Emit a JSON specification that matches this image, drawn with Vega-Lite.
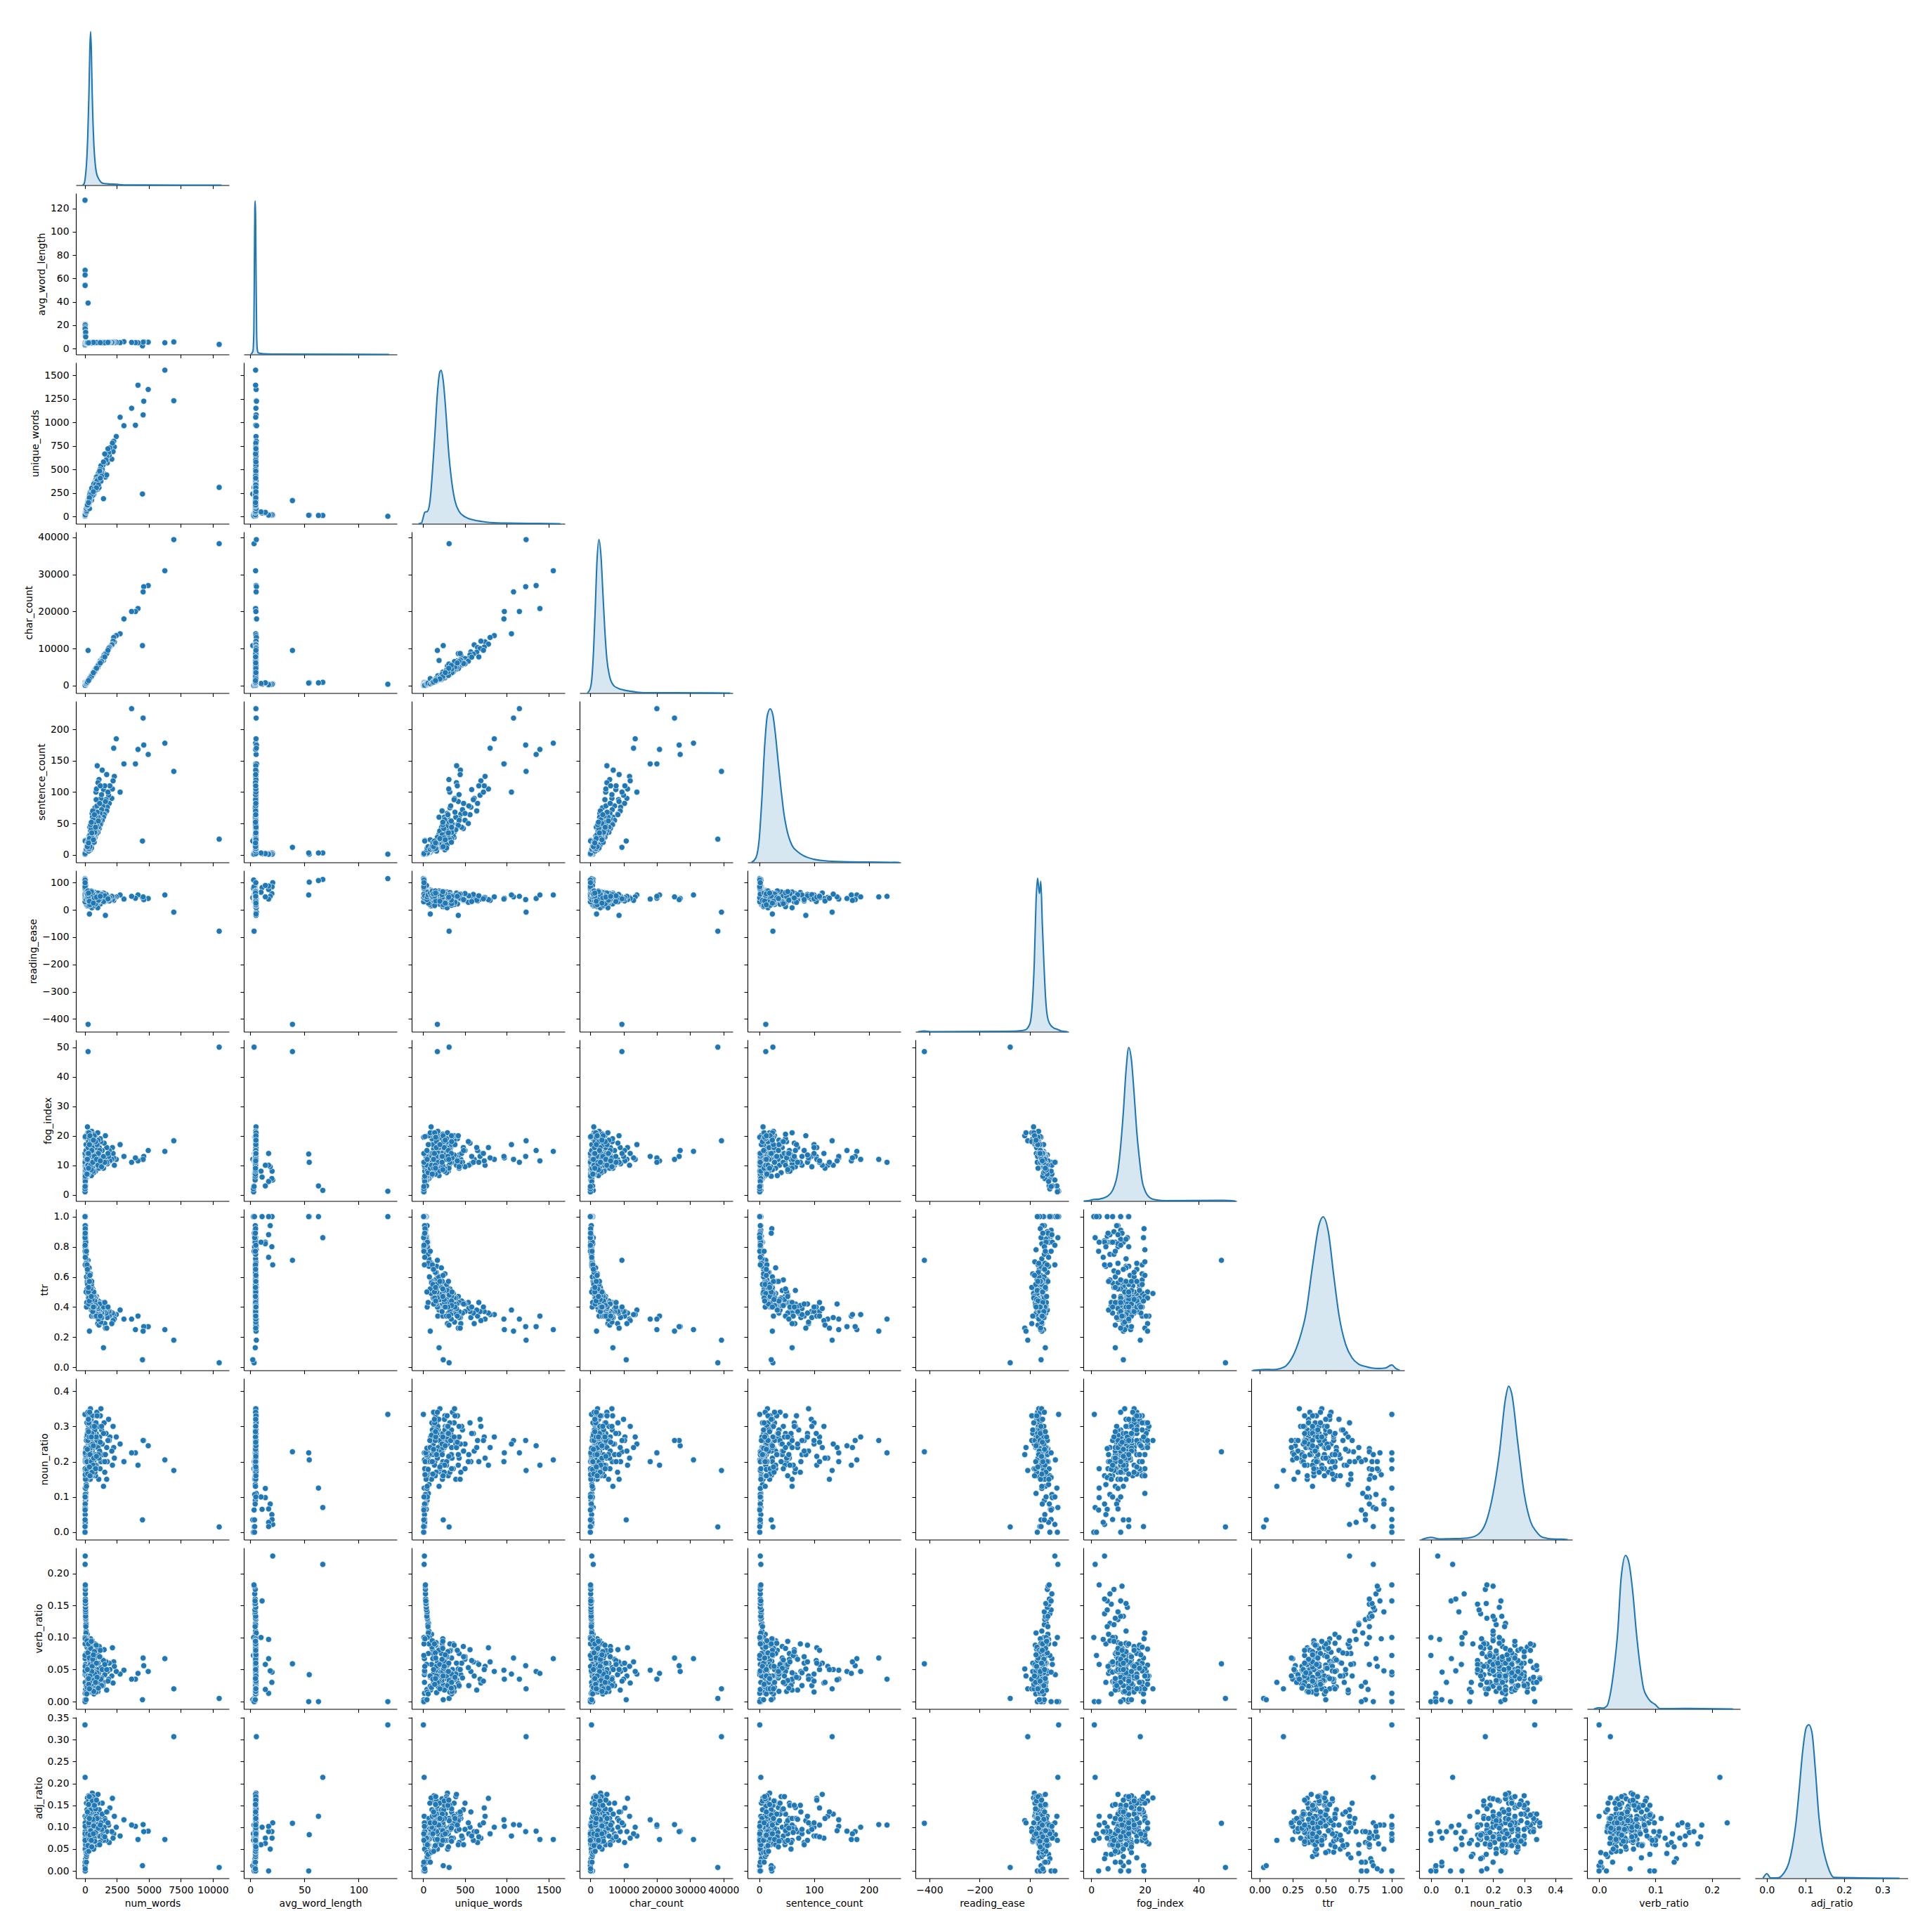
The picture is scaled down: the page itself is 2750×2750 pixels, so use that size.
{"$schema":"https://vega.github.io/schema/vega-lite/v6.json","background":"white","padding":{"left":34,"top":34,"right":0,"bottom":0},"columns":11,"spacing":{"row":11,"column":21},"bounds":"flush",
"config":{"view":{"continuousWidth":218,"continuousHeight":229.5,"stroke":null},"font":"DejaVu Sans","circle":{"size":69,"fill":"#1f77b4","opacity":1,"stroke":"white","strokeWidth":0.67},"line":{"stroke":"#1f77b4","strokeWidth":2.08},"area":{"fill":"#1f77b4","fillOpacity":0.25,"opacity":1},"axis":{"grid":false,"labels":false,"domainColor":"black","domainWidth":1.1,"tickColor":"black","tickWidth":1.1,"tickSize":5,"labelPadding":5,"labelFontSize":13.9,"labelColor":"black","titleFontSize":13.9,"titleColor":"black","titleFontWeight":"normal","titlePadding":5,"labelOverlap":false,"labelBound":false,"labelFlush":false}},
"datasets":{
"k1":[{"x":-180,"d":0},{"x":-60,"d":0.01},{"x":40,"d":0.06},{"x":130,"d":0.15},{"x":220,"d":0.32},{"x":313,"d":0.6},{"x":380,"d":0.88},{"x":440,"d":1},{"x":500,"d":0.88},{"x":560,"d":0.62},{"x":604,"d":0.48},{"x":700,"d":0.26},{"x":800,"d":0.14},{"x":900,"d":0.08},{"x":1050,"d":0.045},{"x":1250,"d":0.02},{"x":1500,"d":0.01},{"x":2000,"d":0.007},{"x":2500,"d":0.005},{"x":3000,"d":0.001},{"x":10680,"d":0}],
"k2":[{"x":0.5,"d":0},{"x":2.5,"d":0.02},{"x":3.4,"d":0.15},{"x":3.9,"d":0.6},{"x":4.3,"d":0.95},{"x":4.6,"d":1},{"x":5,"d":0.9},{"x":5.4,"d":0.55},{"x":6,"d":0.12},{"x":6.6,"d":0.03},{"x":7.5,"d":0.01},{"x":12,"d":0.004},{"x":20,"d":0.002},{"x":128,"d":0}],
"k3":[{"x":-56,"d":0},{"x":-20,"d":0.005},{"x":0,"d":0.04},{"x":20,"d":0.075},{"x":50,"d":0.08},{"x":80,"d":0.14},{"x":110,"d":0.33},{"x":140,"d":0.58},{"x":170,"d":0.85},{"x":200,"d":0.99},{"x":215,"d":1},{"x":240,"d":0.93},{"x":270,"d":0.74},{"x":300,"d":0.5},{"x":340,"d":0.28},{"x":380,"d":0.15},{"x":430,"d":0.08},{"x":500,"d":0.045},{"x":600,"d":0.025},{"x":700,"d":0.015},{"x":800,"d":0.008},{"x":1000,"d":0.004},{"x":1400,"d":0.002},{"x":1640,"d":0}],
"k4":[{"x":-840,"d":0},{"x":0,"d":0.03},{"x":500,"d":0.1},{"x":1000,"d":0.28},{"x":1500,"d":0.55},{"x":2000,"d":0.85},{"x":2600,"d":1},{"x":3200,"d":0.9},{"x":3800,"d":0.65},{"x":4400,"d":0.4},{"x":5000,"d":0.22},{"x":5800,"d":0.11},{"x":7000,"d":0.05},{"x":8500,"d":0.03},{"x":10000,"d":0.02},{"x":12000,"d":0.012},{"x":14000,"d":0.006},{"x":18000,"d":0.002},{"x":25000,"d":0.002},{"x":42000,"d":0}],
"k5":[{"x":-14,"d":0},{"x":-6,"d":0.03},{"x":0,"d":0.15},{"x":5,"d":0.42},{"x":10,"d":0.76},{"x":15,"d":0.96},{"x":20,"d":1},{"x":25,"d":0.96},{"x":30,"d":0.82},{"x":35,"d":0.64},{"x":40,"d":0.47},{"x":45,"d":0.32},{"x":50,"d":0.22},{"x":60,"d":0.11},{"x":70,"d":0.07},{"x":80,"d":0.045},{"x":100,"d":0.02},{"x":120,"d":0.01},{"x":150,"d":0.004},{"x":200,"d":0.002},{"x":255,"d":0}],
"k6":[{"x":-445,"d":0},{"x":-420,"d":0.004},{"x":-395,"d":0},{"x":-100,"d":0.002},{"x":-50,"d":0.004},{"x":-20,"d":0.01},{"x":0,"d":0.05},{"x":10,"d":0.18},{"x":18,"d":0.45},{"x":25,"d":0.85},{"x":31,"d":1},{"x":36,"d":0.93},{"x":39,"d":0.9},{"x":44,"d":0.98},{"x":50,"d":0.7},{"x":57,"d":0.42},{"x":63,"d":0.22},{"x":70,"d":0.1},{"x":80,"d":0.05},{"x":95,"d":0.025},{"x":110,"d":0.015},{"x":125,"d":0.005},{"x":150,"d":0}],
"k7":[{"x":-2.7,"d":0},{"x":-1,"d":0.002},{"x":1,"d":0.01},{"x":3,"d":0.012},{"x":6,"d":0.03},{"x":8,"d":0.07},{"x":10,"d":0.2},{"x":11,"d":0.36},{"x":12,"d":0.58},{"x":13,"d":0.85},{"x":14,"d":1},{"x":15,"d":0.92},{"x":16,"d":0.7},{"x":17,"d":0.45},{"x":18,"d":0.27},{"x":19,"d":0.13},{"x":20,"d":0.07},{"x":22,"d":0.02},{"x":24,"d":0.008},{"x":28,"d":0.002},{"x":49,"d":0.004},{"x":53.7,"d":0}],
"k8":[{"x":-0.05,"d":0},{"x":0,"d":0.003},{"x":0.05,"d":0.006},{"x":0.1,"d":0.004},{"x":0.15,"d":0.01},{"x":0.2,"d":0.03},{"x":0.25,"d":0.09},{"x":0.3,"d":0.2},{"x":0.35,"d":0.37},{"x":0.4,"d":0.68},{"x":0.45,"d":0.95},{"x":0.48,"d":1},{"x":0.52,"d":0.9},{"x":0.56,"d":0.62},{"x":0.6,"d":0.36},{"x":0.65,"d":0.17},{"x":0.7,"d":0.08},{"x":0.75,"d":0.04},{"x":0.8,"d":0.025},{"x":0.85,"d":0.015},{"x":0.9,"d":0.012},{"x":0.95,"d":0.015},{"x":1,"d":0.035},{"x":1.03,"d":0.012},{"x":1.06,"d":0}],
"k9":[{"x":-0.03,"d":0},{"x":0,"d":0.015},{"x":0.03,"d":0.004},{"x":0.06,"d":0.006},{"x":0.1,"d":0.008},{"x":0.13,"d":0.015},{"x":0.16,"d":0.05},{"x":0.18,"d":0.13},{"x":0.2,"d":0.3},{"x":0.22,"d":0.56},{"x":0.24,"d":0.92},{"x":0.25,"d":1},{"x":0.26,"d":0.95},{"x":0.28,"d":0.62},{"x":0.3,"d":0.3},{"x":0.32,"d":0.12},{"x":0.34,"d":0.05},{"x":0.36,"d":0.015},{"x":0.4,"d":0.003},{"x":0.42,"d":0.003},{"x":0.44,"d":0}],
"k10":[{"x":-0.009,"d":0},{"x":0,"d":0.008},{"x":0.006,"d":0.005},{"x":0.014,"d":0.02},{"x":0.02,"d":0.1},{"x":0.026,"d":0.25},{"x":0.033,"d":0.5},{"x":0.039,"d":0.85},{"x":0.047,"d":1},{"x":0.053,"d":0.95},{"x":0.06,"d":0.75},{"x":0.066,"d":0.5},{"x":0.072,"d":0.3},{"x":0.079,"d":0.13},{"x":0.085,"d":0.08},{"x":0.091,"d":0.05},{"x":0.099,"d":0.03},{"x":0.108,"d":0.002},{"x":0.15,"d":0.003},{"x":0.237,"d":0}],
"k11":[{"x":-0.01,"d":0},{"x":0,"d":0.03},{"x":0.01,"d":0.002},{"x":0.03,"d":0.003},{"x":0.043,"d":0.03},{"x":0.057,"d":0.1},{"x":0.066,"d":0.2},{"x":0.075,"d":0.35},{"x":0.084,"d":0.58},{"x":0.093,"d":0.83},{"x":0.102,"d":0.98},{"x":0.109,"d":1},{"x":0.117,"d":0.95},{"x":0.126,"d":0.7},{"x":0.135,"d":0.4},{"x":0.144,"d":0.22},{"x":0.153,"d":0.12},{"x":0.162,"d":0.05},{"x":0.174,"d":0.005},{"x":0.344,"d":0}],
"docs":[
{"words":3,"len":127,"uniq":3,"chars":380,"sents":1,"ease":115,"fog":1.2,"ttr":1,"noun":0.334,"verb":0,"adj":0.334},
{"words":14,"len":67,"uniq":12,"chars":900,"sents":3,"ease":112,"fog":1.5,"ttr":0.86,"noun":0.07,"verb":0.214,"adj":0.214},
{"words":12,"len":63,"uniq":12,"chars":760,"sents":3,"ease":108,"fog":3,"ttr":1,"noun":0.125,"verb":0,"adj":0.125},
{"words":15,"len":54.5,"uniq":15,"chars":800,"sents":1,"ease":102,"fog":11,"ttr":1,"noun":0.205,"verb":0.042,"adj":0.083},
{"words":14,"len":54,"uniq":14,"chars":700,"sents":3,"ease":55,"fog":13.8,"ttr":1,"noun":0.225,"verb":0,"adj":0},
{"words":245,"len":39,"uniq":170,"chars":9500,"sents":12,"ease":-420,"fog":48.5,"ttr":0.71,"noun":0.228,"verb":0.059,"adj":0.109},
{"words":10500,"len":3.6,"uniq":310,"chars":38300,"sents":25,"ease":-78,"fog":50,"ttr":0.03,"noun":0.015,"verb":0.005,"adj":0.008},
{"words":6950,"len":5.7,"uniq":1230,"chars":39400,"sents":133,"ease":-8,"fog":18.3,"ttr":0.18,"noun":0.175,"verb":0.02,"adj":0.307},
{"words":6250,"len":5,"uniq":1555,"chars":31000,"sents":178,"ease":55,"fog":14.7,"ttr":0.25,"noun":0.205,"verb":0.067,"adj":0.072},
{"words":4500,"len":2.4,"uniq":240,"chars":10800,"sents":22,"ease":45,"fog":12,"ttr":0.05,"noun":0.035,"verb":0.003,"adj":0.012},
{"words":4950,"len":5.5,"uniq":1350,"chars":27000,"sents":160,"ease":42,"fog":15,"ttr":0.27,"noun":0.245,"verb":0.047,"adj":0.091},
{"words":4600,"len":5.8,"uniq":1225,"chars":26700,"sents":175,"ease":38,"fog":13,"ttr":0.27,"noun":0.26,"verb":0.056,"adj":0.09},
{"words":4550,"len":5.5,"uniq":1080,"chars":25300,"sents":218,"ease":48,"fog":12,"ttr":0.24,"noun":0.26,"verb":0.068,"adj":0.106},
{"words":4150,"len":5,"uniq":1395,"chars":20800,"sents":168,"ease":55,"fog":11.5,"ttr":0.34,"noun":0.19,"verb":0.044,"adj":0.072},
{"words":3950,"len":5.1,"uniq":970,"chars":20000,"sents":145,"ease":43,"fog":12.5,"ttr":0.25,"noun":0.225,"verb":0.035,"adj":0.102},
{"words":3650,"len":5.3,"uniq":1150,"chars":20000,"sents":233,"ease":50,"fog":11,"ttr":0.32,"noun":0.225,"verb":0.035,"adj":0.105},
{"words":3050,"len":5.9,"uniq":965,"chars":18000,"sents":145,"ease":40,"fog":13,"ttr":0.32,"noun":0.2,"verb":0.049,"adj":0.117},
{"words":2750,"len":5.1,"uniq":1055,"chars":14000,"sents":100,"ease":55,"fog":17,"ttr":0.38,"noun":0.25,"verb":0.043,"adj":0.08},
{"words":2450,"len":5.4,"uniq":850,"chars":13500,"sents":185,"ease":48,"fog":12,"ttr":0.35,"noun":0.27,"verb":0.047,"adj":0.1},
{"words":2250,"len":5.7,"uniq":800,"chars":13000,"sents":170,"ease":35,"fog":12.5,"ttr":0.35,"noun":0.24,"verb":0.062,"adj":0.085},
{"words":2300,"len":5.1,"uniq":740,"chars":11800,"sents":125,"ease":46,"fog":10,"ttr":0.32,"noun":0.21,"verb":0.055,"adj":0.125},
{"words":2200,"len":5.4,"uniq":690,"chars":12000,"sents":118,"ease":42,"fog":14,"ttr":0.31,"noun":0.3,"verb":0.029,"adj":0.075},
{"words":2150,"len":5.2,"uniq":780,"chars":11200,"sents":105,"ease":38,"fog":16,"ttr":0.36,"noun":0.19,"verb":0.084,"adj":0.166},
{"words":2100,"len":5.3,"uniq":610,"chars":11000,"sents":90,"ease":50,"fog":12,"ttr":0.29,"noun":0.23,"verb":0.04,"adj":0.09},
{"words":1950,"len":5.3,"uniq":730,"chars":10400,"sents":110,"ease":45,"fog":11.5,"ttr":0.37,"noun":0.27,"verb":0.05,"adj":0.144},
{"words":1900,"len":5.5,"uniq":650,"chars":10300,"sents":82,"ease":33,"fog":15,"ttr":0.34,"noun":0.26,"verb":0.06,"adj":0.065},
{"words":1850,"len":5.4,"uniq":680,"chars":10000,"sents":95,"ease":40,"fog":13,"ttr":0.37,"noun":0.32,"verb":0.035,"adj":0.105},
{"words":1750,"len":5.2,"uniq":570,"chars":9100,"sents":76,"ease":50,"fog":10.5,"ttr":0.33,"noun":0.2,"verb":0.047,"adj":0.135},
{"words":1700,"len":5.3,"uniq":640,"chars":9000,"sents":70,"ease":36,"fog":16,"ttr":0.38,"noun":0.24,"verb":0.018,"adj":0.09},
{"words":1650,"len":5.1,"uniq":600,"chars":8500,"sents":88,"ease":57,"fog":11,"ttr":0.36,"noun":0.28,"verb":0.062,"adj":0.07},
{"words":1550,"len":5.3,"uniq":450,"chars":8200,"sents":65,"ease":47,"fog":12,"ttr":0.29,"noun":0.17,"verb":0.042,"adj":0.12},
{"words":1500,"len":5.5,"uniq":560,"chars":8300,"sents":64,"ease":30,"fog":17.5,"ttr":0.37,"noun":0.31,"verb":0.081,"adj":0.1},
{"words":1450,"len":4.7,"uniq":190,"chars":6800,"sents":60,"ease":62,"fog":9,"ttr":0.13,"noun":0.13,"verb":0.03,"adj":0.07},
{"words":1400,"len":5.2,"uniq":545,"chars":7300,"sents":78,"ease":52,"fog":10,"ttr":0.39,"noun":0.22,"verb":0.025,"adj":0.085},
{"words":1350,"len":5.4,"uniq":500,"chars":7300,"sents":55,"ease":35,"fog":15,"ttr":0.37,"noun":0.25,"verb":0.066,"adj":0.155},
{"words":1300,"len":5.1,"uniq":470,"chars":6600,"sents":72,"ease":55,"fog":11,"ttr":0.36,"noun":0.29,"verb":0.037,"adj":0.075},
{"words":1250,"len":5.3,"uniq":540,"chars":6600,"sents":50,"ease":28,"fog":18,"ttr":0.43,"noun":0.2,"verb":0.053,"adj":0.11},
{"words":1200,"len":5.6,"uniq":410,"chars":6700,"sents":48,"ease":22,"fog":19,"ttr":0.34,"noun":0.33,"verb":0.03,"adj":0.13},
{"words":1180,"len":5,"uniq":500,"chars":5900,"sents":66,"ease":60,"fog":9.5,"ttr":0.42,"noun":0.18,"verb":0.07,"adj":0.095},
{"words":1150,"len":5.2,"uniq":430,"chars":6000,"sents":58,"ease":43,"fog":13.5,"ttr":0.37,"noun":0.27,"verb":0.024,"adj":0.065},
{"words":1120,"len":5.4,"uniq":480,"chars":6050,"sents":42,"ease":36,"fog":16,"ttr":0.43,"noun":0.23,"verb":0.086,"adj":0.14},
{"words":1080,"len":5.1,"uniq":390,"chars":5500,"sents":60,"ease":53,"fog":10.5,"ttr":0.36,"noun":0.15,"verb":0.045,"adj":0.105},
{"words":1050,"len":5.3,"uniq":460,"chars":5600,"sents":44,"ease":40,"fog":14,"ttr":0.44,"noun":0.3,"verb":0.06,"adj":0.08},
{"words":1020,"len":5.5,"uniq":370,"chars":5600,"sents":36,"ease":26,"fog":18.5,"ttr":0.36,"noun":0.26,"verb":0.016,"adj":0.155},
{"words":990,"len":5,"uniq":430,"chars":4950,"sents":55,"ease":58,"fog":9,"ttr":0.43,"noun":0.21,"verb":0.075,"adj":0.12},
{"words":960,"len":5.2,"uniq":400,"chars":5000,"sents":142,"ease":48,"fog":11.5,"ttr":0.42,"noun":0.24,"verb":0.034,"adj":0.092},
{"words":930,"len":5.4,"uniq":350,"chars":5000,"sents":38,"ease":31,"fog":17,"ttr":0.38,"noun":0.34,"verb":0.05,"adj":0.13},
{"words":900,"len":5.1,"uniq":420,"chars":4600,"sents":47,"ease":50,"fog":11,"ttr":0.47,"noun":0.19,"verb":0.028,"adj":0.06},
{"words":880,"len":5.3,"uniq":330,"chars":4650,"sents":33,"ease":37,"fog":16,"ttr":0.38,"noun":0.28,"verb":0.08,"adj":0.11},
{"words":850,"len":5.2,"uniq":390,"chars":4400,"sents":40,"ease":44,"fog":13,"ttr":0.46,"noun":0.25,"verb":0.043,"adj":0.17},
{"words":830,"len":5,"uniq":300,"chars":4150,"sents":52,"ease":64,"fog":8,"ttr":0.36,"noun":0.16,"verb":0.058,"adj":0.085},
{"words":800,"len":5.5,"uniq":370,"chars":4400,"sents":28,"ease":20,"fog":20,"ttr":0.46,"noun":0.31,"verb":0.022,"adj":0.125},
{"words":780,"len":5.1,"uniq":340,"chars":3980,"sents":42,"ease":52,"fog":11,"ttr":0.44,"noun":0.22,"verb":0.068,"adj":0.1},
{"words":760,"len":5.3,"uniq":320,"chars":4030,"sents":35,"ease":39,"fog":15,"ttr":0.42,"noun":0.27,"verb":0.037,"adj":0.145},
{"words":740,"len":5,"uniq":360,"chars":3700,"sents":30,"ease":47,"fog":13,"ttr":0.49,"noun":0.18,"verb":0.09,"adj":0.075},
{"words":720,"len":5.2,"uniq":310,"chars":3750,"sents":37,"ease":55,"fog":10,"ttr":0.43,"noun":0.29,"verb":0.047,"adj":0.115},
{"words":700,"len":5.4,"uniq":340,"chars":3780,"sents":26,"ease":24,"fog":19.5,"ttr":0.49,"noun":0.24,"verb":0.012,"adj":0.135},
{"words":680,"len":4.9,"uniq":280,"chars":3330,"sents":40,"ease":66,"fog":7.5,"ttr":0.41,"noun":0.2,"verb":0.06,"adj":0.07},
{"words":660,"len":5.1,"uniq":300,"chars":3370,"sents":28,"ease":42,"fog":15,"ttr":0.45,"noun":0.26,"verb":0.03,"adj":0.16},
{"words":640,"len":5.3,"uniq":260,"chars":3390,"sents":32,"ease":35,"fog":16.5,"ttr":0.41,"noun":0.33,"verb":0.053,"adj":0.095},
{"words":620,"len":5,"uniq":320,"chars":3100,"sents":24,"ease":50,"fog":12.5,"ttr":0.52,"noun":0.21,"verb":0.079,"adj":0.12},
{"words":600,"len":5.2,"uniq":270,"chars":3120,"sents":34,"ease":45,"fog":12,"ttr":0.45,"noun":0.28,"verb":0.041,"adj":0.088},
{"words":590,"len":5.1,"uniq":240,"chars":3010,"sents":22,"ease":41,"fog":15.5,"ttr":0.41,"noun":0.16,"verb":0.026,"adj":0.105},
{"words":575,"len":5.4,"uniq":290,"chars":3100,"sents":19,"ease":18,"fog":21,"ttr":0.5,"noun":0.25,"verb":0.057,"adj":0.178},
{"words":560,"len":5,"uniq":230,"chars":2800,"sents":30,"ease":58,"fog":9,"ttr":0.41,"noun":0.23,"verb":0.095,"adj":0.062},
{"words":545,"len":5.2,"uniq":265,"chars":2830,"sents":21,"ease":33,"fog":17,"ttr":0.49,"noun":0.3,"verb":0.036,"adj":0.13},
{"words":530,"len":5.1,"uniq":215,"chars":2700,"sents":28,"ease":48,"fog":13,"ttr":0.41,"noun":0.19,"verb":0.05,"adj":0.097},
{"words":515,"len":5.3,"uniq":250,"chars":2730,"sents":25,"ease":38,"fog":14.5,"ttr":0.49,"noun":0.27,"verb":0.072,"adj":0.15},
{"words":500,"len":4.9,"uniq":190,"chars":2450,"sents":33,"ease":70,"fog":6.5,"ttr":0.38,"noun":0.22,"verb":0.044,"adj":0.078},
{"words":490,"len":5,"uniq":240,"chars":2450,"sents":18,"ease":44,"fog":15,"ttr":0.49,"noun":0.26,"verb":0.02,"adj":0.115},
{"words":480,"len":5.2,"uniq":255,"chars":2500,"sents":23,"ease":28,"fog":18,"ttr":0.53,"noun":0.32,"verb":0.063,"adj":0.09},
{"words":470,"len":5.1,"uniq":210,"chars":2400,"sents":26,"ease":53,"fog":11.5,"ttr":0.45,"noun":0.17,"verb":0.083,"adj":0.125},
{"words":460,"len":5,"uniq":225,"chars":2300,"sents":17,"ease":40,"fog":14,"ttr":0.49,"noun":0.24,"verb":0.033,"adj":0.165},
{"words":450,"len":5.3,"uniq":180,"chars":2390,"sents":20,"ease":31,"fog":19,"ttr":0.4,"noun":0.29,"verb":0.054,"adj":0.07},
{"words":440,"len":4.8,"uniq":235,"chars":2110,"sents":24,"ease":62,"fog":8.5,"ttr":0.53,"noun":0.2,"verb":0.098,"adj":0.11},
{"words":430,"len":5.1,"uniq":200,"chars":2190,"sents":15,"ease":36,"fog":16,"ttr":0.47,"noun":0.35,"verb":0.037,"adj":0.103},
{"words":420,"len":5.2,"uniq":170,"chars":2180,"sents":22,"ease":46,"fog":12.5,"ttr":0.4,"noun":0.23,"verb":0.015,"adj":0.14},
{"words":410,"len":5,"uniq":230,"chars":2050,"sents":19,"ease":52,"fog":13,"ttr":0.56,"noun":0.15,"verb":0.064,"adj":0.082},
{"words":400,"len":5.3,"uniq":190,"chars":2120,"sents":14,"ease":25,"fog":20,"ttr":0.47,"noun":0.27,"verb":0.046,"adj":0.122},
{"words":390,"len":4.9,"uniq":210,"chars":1910,"sents":21,"ease":59,"fog":9.5,"ttr":0.54,"noun":0.25,"verb":0.077,"adj":0.06},
{"words":380,"len":5.1,"uniq":160,"chars":1940,"sents":16,"ease":42,"fog":15,"ttr":0.42,"noun":0.31,"verb":0.028,"adj":0.155},
{"words":370,"len":5,"uniq":200,"chars":1850,"sents":18,"ease":49,"fog":12,"ttr":0.54,"noun":0.18,"verb":0.058,"adj":0.093},
{"words":360,"len":5.2,"uniq":175,"chars":1870,"sents":13,"ease":34,"fog":17,"ttr":0.49,"noun":0.22,"verb":0.04,"adj":0.13},
{"words":350,"len":5.4,"uniq":150,"chars":1890,"sents":20,"ease":22,"fog":18,"ttr":0.43,"noun":0.33,"verb":0.088,"adj":0.11},
{"words":340,"len":4.8,"uniq":190,"chars":1630,"sents":17,"ease":65,"fog":8,"ttr":0.56,"noun":0.26,"verb":0.031,"adj":0.068},
{"words":330,"len":5.1,"uniq":165,"chars":1680,"sents":12,"ease":40,"fog":16,"ttr":0.5,"noun":0.28,"verb":0.052,"adj":0.148},
{"words":320,"len":5,"uniq":140,"chars":1600,"sents":15,"ease":47,"fog":13,"ttr":0.44,"noun":0.2,"verb":0.07,"adj":0.1},
{"words":310,"len":5.3,"uniq":180,"chars":1640,"sents":11,"ease":29,"fog":19,"ttr":0.58,"noun":0.24,"verb":0.023,"adj":0.085},
{"words":300,"len":4.9,"uniq":155,"chars":1470,"sents":16,"ease":56,"fog":10,"ttr":0.52,"noun":0.17,"verb":0.092,"adj":0.12},
{"words":290,"len":5.2,"uniq":130,"chars":1510,"sents":14,"ease":38,"fog":15,"ttr":0.45,"noun":0.3,"verb":0.045,"adj":0.172},
{"words":280,"len":5,"uniq":170,"chars":1400,"sents":10,"ease":44,"fog":14.5,"ttr":0.61,"noun":0.21,"verb":0.061,"adj":0.05},
{"words":270,"len":5.1,"uniq":150,"chars":1380,"sents":13,"ease":51,"fog":11,"ttr":0.56,"noun":0.27,"verb":0.035,"adj":0.105},
{"words":260,"len":5.3,"uniq":120,"chars":1380,"sents":12,"ease":31,"fog":18,"ttr":0.46,"noun":0.25,"verb":0.075,"adj":0.135},
{"words":250,"len":4.8,"uniq":145,"chars":1200,"sents":14,"ease":68,"fog":7,"ttr":0.58,"noun":0.16,"verb":0.048,"adj":0.072},
{"words":240,"len":5,"uniq":160,"chars":1200,"sents":9,"ease":47,"fog":13,"ttr":0.67,"noun":0.23,"verb":0.014,"adj":0.09},
{"words":230,"len":5.1,"uniq":125,"chars":1170,"sents":11,"ease":42,"fog":15.5,"ttr":0.54,"noun":0.34,"verb":0.056,"adj":0.115},
{"words":220,"len":5.2,"uniq":110,"chars":1140,"sents":8,"ease":27,"fog":21,"ttr":0.5,"noun":0.29,"verb":0.082,"adj":0.16},
{"words":210,"len":4.9,"uniq":135,"chars":1030,"sents":12,"ease":63,"fog":8.5,"ttr":0.64,"noun":0.19,"verb":0.03,"adj":0.055},
{"words":200,"len":5,"uniq":115,"chars":1000,"sents":10,"ease":50,"fog":12,"ttr":0.57,"noun":0.22,"verb":0.067,"adj":0.125},
{"words":195,"len":5.4,"uniq":95,"chars":1050,"sents":7,"ease":15,"fog":23,"ttr":0.49,"noun":0.26,"verb":0.02,"adj":0.167},
{"words":185,"len":5.1,"uniq":120,"chars":940,"sents":8,"ease":38,"fog":17,"ttr":0.65,"noun":0.28,"verb":0.043,"adj":0.095},
{"words":175,"len":4.8,"uniq":100,"chars":840,"sents":11,"ease":72,"fog":6.5,"ttr":0.57,"noun":0.2,"verb":0.105,"adj":0.08},
{"words":165,"len":5,"uniq":85,"chars":825,"sents":9,"ease":54,"fog":11,"ttr":0.52,"noun":0.24,"verb":0.038,"adj":0.045},
{"words":155,"len":5.2,"uniq":105,"chars":810,"sents":6,"ease":33,"fog":19,"ttr":0.68,"noun":0.31,"verb":0.085,"adj":0.14},
{"words":145,"len":4.9,"uniq":100,"chars":710,"sents":7,"ease":60,"fog":10,"ttr":0.69,"noun":0.15,"verb":0.058,"adj":0.1},
{"words":135,"len":5.1,"uniq":90,"chars":690,"sents":5,"ease":44,"fog":14,"ttr":0.67,"noun":0.27,"verb":0.018,"adj":0.11},
{"words":125,"len":5,"uniq":75,"chars":625,"sents":8,"ease":57,"fog":9,"ttr":0.6,"noun":0.22,"verb":0.1,"adj":0.073},
{"words":115,"len":5.3,"uniq":80,"chars":610,"sents":4,"ease":20,"fog":20,"ttr":0.7,"noun":0.26,"verb":0.04,"adj":0.155},
{"words":105,"len":4.7,"uniq":70,"chars":495,"sents":6,"ease":75,"fog":5.5,"ttr":0.67,"noun":0.135,"verb":0.09,"adj":0.038},
{"words":95,"len":5,"uniq":68,"chars":475,"sents":5,"ease":48,"fog":13,"ttr":0.72,"noun":0.2,"verb":0.11,"adj":0.12},
{"words":90,"len":5.2,"uniq":62,"chars":470,"sents":4,"ease":36,"fog":17,"ttr":0.69,"noun":0.165,"verb":0.075,"adj":0.03},
{"words":85,"len":4.8,"uniq":64,"chars":410,"sents":5,"ease":66,"fog":7,"ttr":0.75,"noun":0.24,"verb":0.122,"adj":0.06},
{"words":80,"len":5.6,"uniq":62,"chars":450,"sents":3,"ease":25,"fog":20,"ttr":0.78,"noun":0.11,"verb":0.107,"adj":0.09},
{"words":75,"len":5,"uniq":56,"chars":375,"sents":4,"ease":58,"fog":8.5,"ttr":0.75,"noun":0.21,"verb":0.12,"adj":0.04},
{"words":70,"len":4.6,"uniq":58,"chars":320,"sents":6,"ease":72,"fog":6,"ttr":0.83,"noun":0.237,"verb":0.117,"adj":0.075},
{"words":65,"len":5.2,"uniq":52,"chars":340,"sents":3,"ease":60,"fog":10,"ttr":0.8,"noun":0.205,"verb":0.128,"adj":0.065},
{"words":60,"len":4.9,"uniq":50,"chars":295,"sents":4,"ease":68,"fog":9,"ttr":0.83,"noun":0.18,"verb":0.13,"adj":0.085},
{"words":58,"len":5.4,"uniq":48,"chars":310,"sents":2,"ease":62,"fog":12,"ttr":0.83,"noun":0.228,"verb":0.133,"adj":0.055},
{"words":55,"len":4.5,"uniq":46,"chars":250,"sents":4,"ease":80,"fog":5,"ttr":0.84,"noun":0.16,"verb":0.137,"adj":0.028},
{"words":52,"len":5,"uniq":44,"chars":260,"sents":3,"ease":72,"fog":11,"ttr":0.85,"noun":0.2,"verb":0.133,"adj":0.02},
{"words":50,"len":4.7,"uniq":47,"chars":235,"sents":3,"ease":58,"fog":10,"ttr":0.94,"noun":0.09,"verb":0.14,"adj":0.105},
{"words":46,"len":4.4,"uniq":40,"chars":200,"sents":4,"ease":85,"fog":6,"ttr":0.87,"noun":0.155,"verb":0.143,"adj":0.075},
{"words":44,"len":5.1,"uniq":38,"chars":225,"sents":2,"ease":70,"fog":13.5,"ttr":0.86,"noun":0.22,"verb":0.147,"adj":0.11},
{"words":42,"len":4.3,"uniq":35,"chars":180,"sents":3,"ease":76,"fog":7.5,"ttr":0.83,"noun":0.15,"verb":0.152,"adj":0.06},
{"words":40,"len":4.8,"uniq":34,"chars":190,"sents":2,"ease":64,"fog":13,"ttr":0.85,"noun":0.178,"verb":0.153,"adj":0.08},
{"words":38,"len":11,"uniq":38,"chars":420,"sents":2,"ease":82,"fog":6,"ttr":1,"noun":0.065,"verb":0.157,"adj":0.1},
{"words":36,"len":4.6,"uniq":30,"chars":165,"sents":2,"ease":78,"fog":5,"ttr":0.83,"noun":0.08,"verb":0.16,"adj":0.088},
{"words":34,"len":4.5,"uniq":31,"chars":155,"sents":3,"ease":85,"fog":11,"ttr":0.91,"noun":0.225,"verb":0.157,"adj":0.105},
{"words":32,"len":4.2,"uniq":28,"chars":135,"sents":2,"ease":88,"fog":7,"ttr":0.88,"noun":0.107,"verb":0.168,"adj":0.09},
{"words":30,"len":4.7,"uniq":27,"chars":140,"sents":2,"ease":70,"fog":8.5,"ttr":0.9,"noun":0.175,"verb":0.175,"adj":0.062},
{"words":28,"len":3.8,"uniq":25,"chars":105,"sents":2,"ease":73,"fog":11.5,"ttr":0.89,"noun":0.2,"verb":0.18,"adj":0.078},
{"words":27,"len":3.5,"uniq":27,"chars":95,"sents":3,"ease":77,"fog":3,"ttr":1,"noun":0.18,"verb":0.182,"adj":0.105},
{"words":22,"len":20.8,"uniq":15,"chars":460,"sents":2,"ease":100,"fog":5,"ttr":0.68,"noun":0.022,"verb":0.227,"adj":0.11},
{"words":20,"len":20,"uniq":16,"chars":400,"sents":3,"ease":60,"fog":5.5,"ttr":0.8,"noun":0.05,"verb":0.03,"adj":0.09},
{"words":19,"len":20.2,"uniq":19,"chars":380,"sents":1,"ease":85,"fog":8,"ttr":1,"noun":0.036,"verb":0.046,"adj":0.075},
{"words":18,"len":18.5,"uniq":17,"chars":330,"sents":2,"ease":50,"fog":9.5,"ttr":0.94,"noun":0.08,"verb":0.048,"adj":0.05},
{"words":26,"len":17,"uniq":19,"chars":440,"sents":2,"ease":75,"fog":4.5,"ttr":0.73,"noun":0.028,"verb":0.097,"adj":0.09},
{"words":17,"len":17,"uniq":15,"chars":290,"sents":1,"ease":88,"fog":10,"ttr":0.88,"noun":0.066,"verb":0.067,"adj":0.102},
{"words":16,"len":17,"uniq":16,"chars":270,"sents":1,"ease":40,"fog":14,"ttr":1,"noun":0.016,"verb":0.013,"adj":0},
{"words":48,"len":14,"uniq":40,"chars":670,"sents":2,"ease":90,"fog":3,"ttr":0.83,"noun":0.098,"verb":0.058,"adj":0.075},
{"words":55,"len":14,"uniq":45,"chars":770,"sents":2,"ease":48,"fog":10,"ttr":0.82,"noun":0.124,"verb":0.019,"adj":0.063},
{"words":60,"len":10,"uniq":50,"chars":600,"sents":3,"ease":65,"fog":8,"ttr":0.83,"noun":0.1,"verb":0.1,"adj":0.06},
{"words":9,"len":3.2,"uniq":9,"chars":28,"sents":1,"ease":110,"fog":1,"ttr":1,"noun":0,"verb":0.1,"adj":0.07},
{"words":8,"len":3,"uniq":8,"chars":24,"sents":1,"ease":80,"fog":2,"ttr":1,"noun":0,"verb":0.072,"adj":0.085},
{"words":6,"len":4,"uniq":6,"chars":24,"sents":1,"ease":30,"fog":11,"ttr":1,"noun":0,"verb":0,"adj":0},
{"words":7,"len":4.2,"uniq":6,"chars":30,"sents":1,"ease":45,"fog":19.5,"ttr":0.86,"noun":0.016,"verb":0,"adj":0.012},
{"words":10,"len":4,"uniq":8,"chars":40,"sents":2,"ease":58,"fog":14,"ttr":0.8,"noun":0.035,"verb":0.003,"adj":0.02},
{"words":11,"len":3.6,"uniq":8,"chars":40,"sents":1,"ease":85,"fog":2.8,"ttr":0.77,"noun":0.063,"verb":0,"adj":0},
{"words":13,"len":5.2,"uniq":10,"chars":68,"sents":2,"ease":100,"fog":11,"ttr":0.81,"noun":0.1,"verb":0.09,"adj":0},
{"words":24,"len":5,"uniq":22,"chars":120,"sents":23,"ease":42,"fog":19.7,"ttr":0.92,"noun":0.163,"verb":0.098,"adj":0},
{"words":21,"len":4.8,"uniq":19,"chars":100,"sents":22,"ease":52,"fog":6.3,"ttr":0.89,"noun":0.18,"verb":0.055,"adj":0.005},
{"words":90,"len":4.7,"uniq":45,"chars":420,"sents":8,"ease":38,"fog":15,"ttr":0.5,"noun":0.238,"verb":0.003,"adj":0.042},
{"words":120,"len":4.9,"uniq":48,"chars":590,"sents":11,"ease":48,"fog":12,"ttr":0.4,"noun":0.13,"verb":0.015,"adj":0.033},
{"words":140,"len":5,"uniq":60,"chars":700,"sents":13,"ease":55,"fog":7.5,"ttr":0.43,"noun":0.178,"verb":0.012,"adj":0.038},
{"words":110,"len":4.8,"uniq":85,"chars":530,"sents":9,"ease":62,"fog":9,"ttr":0.77,"noun":0.2,"verb":0.024,"adj":0.02},
{"words":180,"len":5.2,"uniq":100,"chars":940,"sents":12,"ease":52,"fog":10,"ttr":0.56,"noun":0.275,"verb":0.022,"adj":0.043},
{"words":300,"len":4.9,"uniq":125,"chars":1470,"sents":17,"ease":64,"fog":9,"ttr":0.42,"noun":0.23,"verb":0.03,"adj":0.045},
{"words":520,"len":5.1,"uniq":175,"chars":2650,"sents":26,"ease":35,"fog":21.5,"ttr":0.34,"noun":0.3,"verb":0.04,"adj":0.062},
{"words":700,"len":5.2,"uniq":235,"chars":3640,"sents":48,"ease":12,"fog":20.5,"ttr":0.34,"noun":0.28,"verb":0.047,"adj":0.067},
{"words":1000,"len":5.3,"uniq":290,"chars":5300,"sents":60,"ease":8,"fog":21,"ttr":0.29,"noun":0.26,"verb":0.035,"adj":0.097},
{"words":1600,"len":5.4,"uniq":420,"chars":8640,"sents":85,"ease":-20,"fog":20,"ttr":0.26,"noun":0.22,"verb":0.051,"adj":0.115},
{"words":350,"len":5.4,"uniq":85,"chars":1890,"sents":24,"ease":-15,"fog":21,"ttr":0.24,"noun":0.24,"verb":0.04,"adj":0.11},
{"words":1100,"len":5.3,"uniq":308,"chars":5830,"sents":120,"ease":33,"fog":9,"ttr":0.28,"noun":0.21,"verb":0.03,"adj":0.12},
{"words":420,"len":5,"uniq":260,"chars":2100,"sents":8,"ease":12,"fog":19,"ttr":0.62,"noun":0.29,"verb":0.06,"adj":0.07},
{"words":780,"len":4.7,"uniq":320,"chars":3660,"sents":75,"ease":64,"fog":11,"ttr":0.41,"noun":0.17,"verb":0.09,"adj":0.15},
{"words":540,"len":5.6,"uniq":286,"chars":3020,"sents":16,"ease":8,"fog":18,"ttr":0.53,"noun":0.33,"verb":0.02,"adj":0.09},
{"words":1350,"len":5.1,"uniq":445,"chars":6900,"sents":135,"ease":58,"fog":10,"ttr":0.33,"noun":0.25,"verb":0.05,"adj":0.13},
{"words":330,"len":4.9,"uniq":218,"chars":1620,"sents":30,"ease":60,"fog":13,"ttr":0.66,"noun":0.19,"verb":0.075,"adj":0.06},
{"words":620,"len":5.3,"uniq":279,"chars":3290,"sents":46,"ease":26,"fog":14,"ttr":0.45,"noun":0.27,"verb":0.04,"adj":0.17},
{"words":860,"len":5.4,"uniq":318,"chars":4640,"sents":100,"ease":40,"fog":16,"ttr":0.37,"noun":0.31,"verb":0.015,"adj":0.1},
{"words":380,"len":4.8,"uniq":220,"chars":1820,"sents":44,"ease":52,"fog":11,"ttr":0.58,"noun":0.23,"verb":0.065,"adj":0.14},
{"words":470,"len":5.1,"uniq":230,"chars":2400,"sents":12,"ease":29,"fog":19,"ttr":0.49,"noun":0.16,"verb":0.085,"adj":0.08},
{"words":1250,"len":5.2,"uniq":375,"chars":6500,"sents":90,"ease":47,"fog":12.5,"ttr":0.3,"noun":0.35,"verb":0.035,"adj":0.11},
{"words":290,"len":5,"uniq":160,"chars":1450,"sents":6,"ease":35,"fog":18,"ttr":0.55,"noun":0.22,"verb":0.055,"adj":0.16},
{"words":680,"len":5.2,"uniq":292,"chars":3540,"sents":58,"ease":50,"fog":12,"ttr":0.43,"noun":0.28,"verb":0.025,"adj":0.05},
{"words":160,"len":4.9,"uniq":109,"chars":780,"sents":14,"ease":69,"fog":7,"ttr":0.68,"noun":0.2,"verb":0.095,"adj":0.125},
{"words":940,"len":5,"uniq":329,"chars":4700,"sents":78,"ease":55,"fog":13,"ttr":0.35,"noun":0.26,"verb":0.045,"adj":0.095},
{"words":560,"len":5.1,"uniq":286,"chars":2860,"sents":66,"ease":44,"fog":15,"ttr":0.51,"noun":0.3,"verb":0.07,"adj":0.145},
{"words":720,"len":5.4,"uniq":338,"chars":3890,"sents":20,"ease":17,"fog":20,"ttr":0.47,"noun":0.18,"verb":0.02,"adj":0.075},
{"words":1020,"len":4.9,"uniq":398,"chars":5000,"sents":115,"ease":62,"fog":10,"ttr":0.39,"noun":0.24,"verb":0.06,"adj":0.175},
{"words":310,"len":5.2,"uniq":186,"chars":1610,"sents":24,"ease":37,"fog":16,"ttr":0.6,"noun":0.32,"verb":0.08,"adj":0.105},
{"words":1700,"len":5.1,"uniq":442,"chars":8670,"sents":128,"ease":43,"fog":11,"ttr":0.26,"noun":0.15,"verb":0.05,"adj":0.135},
{"words":650,"len":5,"uniq":312,"chars":3250,"sents":52,"ease":54,"fog":14,"ttr":0.48,"noun":0.21,"verb":0.033,"adj":0.115},
{"words":440,"len":5.3,"uniq":198,"chars":2330,"sents":38,"ease":21,"fog":17,"ttr":0.45,"noun":0.26,"verb":0.058,"adj":0.155},
{"words":820,"len":5.1,"uniq":279,"chars":4180,"sents":62,"ease":46,"fog":12,"ttr":0.34,"noun":0.19,"verb":0.072,"adj":0.088},
{"words":250,"len":5.2,"uniq":158,"chars":1300,"sents":18,"ease":34,"fog":16,"ttr":0.63,"noun":0.29,"verb":0.04,"adj":0.13},
{"words":590,"len":4.8,"uniq":254,"chars":2830,"sents":60,"ease":66,"fog":9,"ttr":0.43,"noun":0.24,"verb":0.018,"adj":0.12},
{"words":1450,"len":5.3,"uniq":580,"chars":7680,"sents":104,"ease":31,"fog":13,"ttr":0.4,"noun":0.28,"verb":0.064,"adj":0.08},
{"words":510,"len":5.2,"uniq":280,"chars":2650,"sents":11,"ease":24,"fog":19,"ttr":0.55,"noun":0.2,"verb":0.048,"adj":0.165},
{"words":370,"len":5,"uniq":170,"chars":1850,"sents":28,"ease":58,"fog":11,"ttr":0.46,"noun":0.34,"verb":0.03,"adj":0.072},
{"words":880,"len":5,"uniq":370,"chars":4400,"sents":88,"ease":52,"fog":13.5,"ttr":0.42,"noun":0.27,"verb":0.088,"adj":0.125},
{"words":210,"len":5.1,"uniq":116,"chars":1070,"sents":20,"ease":48,"fog":14,"ttr":0.55,"noun":0.165,"verb":0.035,"adj":0.085},
{"words":480,"len":5.3,"uniq":245,"chars":2540,"sents":42,"ease":30,"fog":18,"ttr":0.51,"noun":0.25,"verb":0.052,"adj":0.14},
{"words":1150,"len":5.2,"uniq":483,"chars":5980,"sents":82,"ease":38,"fog":15,"ttr":0.42,"noun":0.23,"verb":0.07,"adj":0.06},
{"words":300,"len":5.4,"uniq":138,"chars":1620,"sents":9,"ease":16,"fog":21,"ttr":0.46,"noun":0.31,"verb":0.027,"adj":0.11},
{"words":640,"len":4.9,"uniq":256,"chars":3140,"sents":56,"ease":60,"fog":8,"ttr":0.4,"noun":0.19,"verb":0.062,"adj":0.15},
{"words":770,"len":5.2,"uniq":339,"chars":4000,"sents":36,"ease":40,"fog":17,"ttr":0.44,"noun":0.29,"verb":0.043,"adj":0.068},
{"words":400,"len":5.1,"uniq":228,"chars":2040,"sents":32,"ease":45,"fog":13,"ttr":0.57,"noun":0.22,"verb":0.091,"adj":0.13},
{"words":1300,"len":5,"uniq":429,"chars":6500,"sents":96,"ease":56,"fog":9.5,"ttr":0.33,"noun":0.3,"verb":0.025,"adj":0.095},
{"words":560,"len":5.3,"uniq":252,"chars":2970,"sents":27,"ease":27,"fog":16,"ttr":0.45,"noun":0.17,"verb":0.055,"adj":0.16},
{"words":230,"len":4.9,"uniq":145,"chars":1130,"sents":16,"ease":70,"fog":10,"ttr":0.63,"noun":0.26,"verb":0.076,"adj":0.058},
{"words":950,"len":5.3,"uniq":380,"chars":5040,"sents":68,"ease":28,"fog":17,"ttr":0.4,"noun":0.33,"verb":0.038,"adj":0.12},
{"words":690,"len":5.1,"uniq":345,"chars":3520,"sents":50,"ease":49,"fog":12.5,"ttr":0.5,"noun":0.21,"verb":0.016,"adj":0.103},
{"words":340,"len":5.2,"uniq":150,"chars":1770,"sents":10,"ease":33,"fog":19.5,"ttr":0.44,"noun":0.27,"verb":0.068,"adj":0.17},
{"words":1550,"len":5,"uniq":665,"chars":7750,"sents":110,"ease":52,"fog":11,"ttr":0.43,"noun":0.2,"verb":0.058,"adj":0.078},
{"words":450,"len":5,"uniq":234,"chars":2250,"sents":48,"ease":63,"fog":10,"ttr":0.52,"noun":0.24,"verb":0.083,"adj":0.092},
{"words":830,"len":5.4,"uniq":340,"chars":4480,"sents":44,"ease":23,"fog":18,"ttr":0.41,"noun":0.18,"verb":0.03,"adj":0.142},
{"words":530,"len":5.2,"uniq":302,"chars":2760,"sents":35,"ease":42,"fog":15,"ttr":0.57,"noun":0.28,"verb":0.047,"adj":0.055},
{"words":270,"len":5.1,"uniq":135,"chars":1380,"sents":22,"ease":51,"fog":14,"ttr":0.5,"noun":0.32,"verb":0.09,"adj":0.128},
{"words":1050,"len":5.2,"uniq":336,"chars":5460,"sents":54,"ease":36,"fog":14,"ttr":0.32,"noun":0.22,"verb":0.021,"adj":0.098},
{"words":610,"len":5,"uniq":226,"chars":3050,"sents":70,"ease":56,"fog":11,"ttr":0.37,"noun":0.25,"verb":0.066,"adj":0.118},
{"words":390,"len":5.3,"uniq":238,"chars":2070,"sents":13,"ease":19,"fog":20,"ttr":0.61,"noun":0.16,"verb":0.04,"adj":0.082},
{"words":740,"len":5.1,"uniq":296,"chars":3770,"sents":64,"ease":44,"fog":13,"ttr":0.4,"noun":0.3,"verb":0.078,"adj":0.15},
{"words":190,"len":5,"uniq":124,"chars":950,"sents":13,"ease":59,"fog":12,"ttr":0.65,"noun":0.235,"verb":0.05,"adj":0.135},
{"words":1800,"len":5.3,"uniq":720,"chars":9540,"sents":100,"ease":41,"fog":14,"ttr":0.4,"noun":0.26,"verb":0.032,"adj":0.11},
{"words":500,"len":4.9,"uniq":235,"chars":2450,"sents":52,"ease":67,"fog":8.5,"ttr":0.47,"noun":0.27,"verb":0.094,"adj":0.07},
{"words":900,"len":5.2,"uniq":306,"chars":4680,"sents":105,"ease":47,"fog":12,"ttr":0.34,"noun":0.215,"verb":0.06,"adj":0.162},
{"words":350,"len":5.2,"uniq":200,"chars":1820,"sents":26,"ease":32,"fog":17,"ttr":0.57,"noun":0.185,"verb":0.02,"adj":0.12},
{"words":660,"len":5.3,"uniq":264,"chars":3500,"sents":24,"ease":25,"fog":18.5,"ttr":0.4,"noun":0.245,"verb":0.073,"adj":0.085},
{"words":280,"len":4.9,"uniq":148,"chars":1370,"sents":19,"ease":62,"fog":9,"ttr":0.53,"noun":0.285,"verb":0.036,"adj":0.152},
{"words":1200,"len":5.1,"uniq":408,"chars":6120,"sents":110,"ease":50,"fog":11.5,"ttr":0.34,"noun":0.255,"verb":0.08,"adj":0.105}
]},
"data":{"name":"docs"},
"concat":[
{"data":{"name":"k1"},"mark":{"type":"area","line":true,"interpolate":"monotone"},"encoding":{"x":{"field":"x","type":"quantitative","scale":{"domain":[-710,11270]},"title":null,"axis":{"values":[0,2500,5000,7500,10000]}},"y":{"field":"d","type":"quantitative","scale":{"domain":[0,1.05]},"axis":null}}},
{"data":{"values":[]},"mark":"point"},{"data":{"values":[]},"mark":"point"},{"data":{"values":[]},"mark":"point"},{"data":{"values":[]},"mark":"point"},{"data":{"values":[]},"mark":"point"},{"data":{"values":[]},"mark":"point"},{"data":{"values":[]},"mark":"point"},{"data":{"values":[]},"mark":"point"},{"data":{"values":[]},"mark":"point"},{"data":{"values":[]},"mark":"point"},
{"mark":"circle","encoding":{"x":{"field":"words","type":"quantitative","scale":{"domain":[-710,11270]},"title":null,"axis":{"values":[0,2500,5000,7500,10000]}},"y":{"field":"len","type":"quantitative","scale":{"domain":[-5,133]},"title":"avg_word_length","axis":{"labels":true,"format":"d","values":[0,20,40,60,80,100,120]}}}},
{"data":{"name":"k2"},"mark":{"type":"area","line":true,"interpolate":"monotone"},"encoding":{"x":{"field":"x","type":"quantitative","scale":{"domain":[-5.9,135.4]},"title":null,"axis":{"values":[0,50,100]}},"y":{"field":"d","type":"quantitative","scale":{"domain":[0,1.05]},"axis":null}}},
{"data":{"values":[]},"mark":"point"},{"data":{"values":[]},"mark":"point"},{"data":{"values":[]},"mark":"point"},{"data":{"values":[]},"mark":"point"},{"data":{"values":[]},"mark":"point"},{"data":{"values":[]},"mark":"point"},{"data":{"values":[]},"mark":"point"},{"data":{"values":[]},"mark":"point"},{"data":{"values":[]},"mark":"point"},
{"mark":"circle","encoding":{"x":{"field":"words","type":"quantitative","scale":{"domain":[-710,11270]},"title":null,"axis":{"values":[0,2500,5000,7500,10000]}},"y":{"field":"uniq","type":"quantitative","scale":{"domain":[-76,1636]},"title":"unique_words","axis":{"labels":true,"format":"d","values":[0,250,500,750,1000,1250,1500]}}}},
{"mark":"circle","encoding":{"x":{"field":"len","type":"quantitative","scale":{"domain":[-5.9,135.4]},"title":null,"axis":{"values":[0,50,100]}},"y":{"field":"uniq","type":"quantitative","scale":{"domain":[-76,1636]},"title":null,"axis":{"values":[0,250,500,750,1000,1250,1500]}}}},
{"data":{"name":"k3"},"mark":{"type":"area","line":true,"interpolate":"monotone"},"encoding":{"x":{"field":"x","type":"quantitative","scale":{"domain":[-137,1693]},"title":null,"axis":{"values":[0,500,1000,1500]}},"y":{"field":"d","type":"quantitative","scale":{"domain":[0,1.05]},"axis":null}}},
{"data":{"values":[]},"mark":"point"},{"data":{"values":[]},"mark":"point"},{"data":{"values":[]},"mark":"point"},{"data":{"values":[]},"mark":"point"},{"data":{"values":[]},"mark":"point"},{"data":{"values":[]},"mark":"point"},{"data":{"values":[]},"mark":"point"},{"data":{"values":[]},"mark":"point"},
{"mark":"circle","encoding":{"x":{"field":"words","type":"quantitative","scale":{"domain":[-710,11270]},"title":null,"axis":{"values":[0,2500,5000,7500,10000]}},"y":{"field":"chars","type":"quantitative","scale":{"domain":[-2000,41500]},"title":"char_count","axis":{"labels":true,"format":"d","values":[0,10000,20000,30000,40000]}}}},
{"mark":"circle","encoding":{"x":{"field":"len","type":"quantitative","scale":{"domain":[-5.9,135.4]},"title":null,"axis":{"values":[0,50,100]}},"y":{"field":"chars","type":"quantitative","scale":{"domain":[-2000,41500]},"title":null,"axis":{"values":[0,10000,20000,30000,40000]}}}},
{"mark":"circle","encoding":{"x":{"field":"uniq","type":"quantitative","scale":{"domain":[-137,1693]},"title":null,"axis":{"values":[0,500,1000,1500]}},"y":{"field":"chars","type":"quantitative","scale":{"domain":[-2000,41500]},"title":null,"axis":{"values":[0,10000,20000,30000,40000]}}}},
{"data":{"name":"k4"},"mark":{"type":"area","line":true,"interpolate":"monotone"},"encoding":{"x":{"field":"x","type":"quantitative","scale":{"domain":[-3200,42785]},"title":null,"axis":{"values":[0,10000,20000,30000,40000]}},"y":{"field":"d","type":"quantitative","scale":{"domain":[0,1.05]},"axis":null}}},
{"data":{"values":[]},"mark":"point"},{"data":{"values":[]},"mark":"point"},{"data":{"values":[]},"mark":"point"},{"data":{"values":[]},"mark":"point"},{"data":{"values":[]},"mark":"point"},{"data":{"values":[]},"mark":"point"},{"data":{"values":[]},"mark":"point"},
{"mark":"circle","encoding":{"x":{"field":"words","type":"quantitative","scale":{"domain":[-710,11270]},"title":null,"axis":{"values":[0,2500,5000,7500,10000]}},"y":{"field":"sents","type":"quantitative","scale":{"domain":[-12,245]},"title":"sentence_count","axis":{"labels":true,"format":"d","values":[0,50,100,150,200]}}}},
{"mark":"circle","encoding":{"x":{"field":"len","type":"quantitative","scale":{"domain":[-5.9,135.4]},"title":null,"axis":{"values":[0,50,100]}},"y":{"field":"sents","type":"quantitative","scale":{"domain":[-12,245]},"title":null,"axis":{"values":[0,50,100,150,200]}}}},
{"mark":"circle","encoding":{"x":{"field":"uniq","type":"quantitative","scale":{"domain":[-137,1693]},"title":null,"axis":{"values":[0,500,1000,1500]}},"y":{"field":"sents","type":"quantitative","scale":{"domain":[-12,245]},"title":null,"axis":{"values":[0,50,100,150,200]}}}},
{"mark":"circle","encoding":{"x":{"field":"chars","type":"quantitative","scale":{"domain":[-3200,42785]},"title":null,"axis":{"values":[0,10000,20000,30000,40000]}},"y":{"field":"sents","type":"quantitative","scale":{"domain":[-12,245]},"title":null,"axis":{"values":[0,50,100,150,200]}}}},
{"data":{"name":"k5"},"mark":{"type":"area","line":true,"interpolate":"monotone"},"encoding":{"x":{"field":"x","type":"quantitative","scale":{"domain":[-21.3,257.9]},"title":null,"axis":{"values":[0,100,200]}},"y":{"field":"d","type":"quantitative","scale":{"domain":[0,1.05]},"axis":null}}},
{"data":{"values":[]},"mark":"point"},{"data":{"values":[]},"mark":"point"},{"data":{"values":[]},"mark":"point"},{"data":{"values":[]},"mark":"point"},{"data":{"values":[]},"mark":"point"},{"data":{"values":[]},"mark":"point"},
{"mark":"circle","encoding":{"x":{"field":"words","type":"quantitative","scale":{"domain":[-710,11270]},"title":null,"axis":{"values":[0,2500,5000,7500,10000]}},"y":{"field":"ease","type":"quantitative","scale":{"domain":[-447,145]},"title":"reading_ease","axis":{"labels":true,"format":"d","values":[-400,-300,-200,-100,0,100]}}}},
{"mark":"circle","encoding":{"x":{"field":"len","type":"quantitative","scale":{"domain":[-5.9,135.4]},"title":null,"axis":{"values":[0,50,100]}},"y":{"field":"ease","type":"quantitative","scale":{"domain":[-447,145]},"title":null,"axis":{"values":[-400,-300,-200,-100,0,100]}}}},
{"mark":"circle","encoding":{"x":{"field":"uniq","type":"quantitative","scale":{"domain":[-137,1693]},"title":null,"axis":{"values":[0,500,1000,1500]}},"y":{"field":"ease","type":"quantitative","scale":{"domain":[-447,145]},"title":null,"axis":{"values":[-400,-300,-200,-100,0,100]}}}},
{"mark":"circle","encoding":{"x":{"field":"chars","type":"quantitative","scale":{"domain":[-3200,42785]},"title":null,"axis":{"values":[0,10000,20000,30000,40000]}},"y":{"field":"ease","type":"quantitative","scale":{"domain":[-447,145]},"title":null,"axis":{"values":[-400,-300,-200,-100,0,100]}}}},
{"mark":"circle","encoding":{"x":{"field":"sents","type":"quantitative","scale":{"domain":[-21.3,257.9]},"title":null,"axis":{"values":[0,100,200]}},"y":{"field":"ease","type":"quantitative","scale":{"domain":[-447,145]},"title":null,"axis":{"values":[-400,-300,-200,-100,0,100]}}}},
{"data":{"name":"k6"},"mark":{"type":"area","line":true,"interpolate":"monotone"},"encoding":{"x":{"field":"x","type":"quantitative","scale":{"domain":[-455.7,154.6]},"title":null,"axis":{"values":[-400,-200,0]}},"y":{"field":"d","type":"quantitative","scale":{"domain":[0,1.05]},"axis":null}}},
{"data":{"values":[]},"mark":"point"},{"data":{"values":[]},"mark":"point"},{"data":{"values":[]},"mark":"point"},{"data":{"values":[]},"mark":"point"},{"data":{"values":[]},"mark":"point"},
{"mark":"circle","encoding":{"x":{"field":"words","type":"quantitative","scale":{"domain":[-710,11270]},"title":null,"axis":{"values":[0,2500,5000,7500,10000]}},"y":{"field":"fog","type":"quantitative","scale":{"domain":[-2.1,52.5]},"title":"fog_index","axis":{"labels":true,"format":"d","values":[0,10,20,30,40,50]}}}},
{"mark":"circle","encoding":{"x":{"field":"len","type":"quantitative","scale":{"domain":[-5.9,135.4]},"title":null,"axis":{"values":[0,50,100]}},"y":{"field":"fog","type":"quantitative","scale":{"domain":[-2.1,52.5]},"title":null,"axis":{"values":[0,10,20,30,40,50]}}}},
{"mark":"circle","encoding":{"x":{"field":"uniq","type":"quantitative","scale":{"domain":[-137,1693]},"title":null,"axis":{"values":[0,500,1000,1500]}},"y":{"field":"fog","type":"quantitative","scale":{"domain":[-2.1,52.5]},"title":null,"axis":{"values":[0,10,20,30,40,50]}}}},
{"mark":"circle","encoding":{"x":{"field":"chars","type":"quantitative","scale":{"domain":[-3200,42785]},"title":null,"axis":{"values":[0,10000,20000,30000,40000]}},"y":{"field":"fog","type":"quantitative","scale":{"domain":[-2.1,52.5]},"title":null,"axis":{"values":[0,10,20,30,40,50]}}}},
{"mark":"circle","encoding":{"x":{"field":"sents","type":"quantitative","scale":{"domain":[-21.3,257.9]},"title":null,"axis":{"values":[0,100,200]}},"y":{"field":"fog","type":"quantitative","scale":{"domain":[-2.1,52.5]},"title":null,"axis":{"values":[0,10,20,30,40,50]}}}},
{"mark":"circle","encoding":{"x":{"field":"ease","type":"quantitative","scale":{"domain":[-455.7,154.6]},"title":null,"axis":{"values":[-400,-200,0]}},"y":{"field":"fog","type":"quantitative","scale":{"domain":[-2.1,52.5]},"title":null,"axis":{"values":[0,10,20,30,40,50]}}}},
{"data":{"name":"k7"},"mark":{"type":"area","line":true,"interpolate":"monotone"},"encoding":{"x":{"field":"x","type":"quantitative","scale":{"domain":[-2.9,54.1]},"title":null,"axis":{"values":[0,20,40]}},"y":{"field":"d","type":"quantitative","scale":{"domain":[0,1.05]},"axis":null}}},
{"data":{"values":[]},"mark":"point"},{"data":{"values":[]},"mark":"point"},{"data":{"values":[]},"mark":"point"},{"data":{"values":[]},"mark":"point"},
{"mark":"circle","encoding":{"x":{"field":"words","type":"quantitative","scale":{"domain":[-710,11270]},"title":null,"axis":{"values":[0,2500,5000,7500,10000]}},"y":{"field":"ttr","type":"quantitative","scale":{"domain":[-0.02,1.05]},"title":"ttr","axis":{"labels":true,"format":".1f","values":[0,0.2,0.4,0.6,0.8,1]}}}},
{"mark":"circle","encoding":{"x":{"field":"len","type":"quantitative","scale":{"domain":[-5.9,135.4]},"title":null,"axis":{"values":[0,50,100]}},"y":{"field":"ttr","type":"quantitative","scale":{"domain":[-0.02,1.05]},"title":null,"axis":{"values":[0,0.2,0.4,0.6,0.8,1]}}}},
{"mark":"circle","encoding":{"x":{"field":"uniq","type":"quantitative","scale":{"domain":[-137,1693]},"title":null,"axis":{"values":[0,500,1000,1500]}},"y":{"field":"ttr","type":"quantitative","scale":{"domain":[-0.02,1.05]},"title":null,"axis":{"values":[0,0.2,0.4,0.6,0.8,1]}}}},
{"mark":"circle","encoding":{"x":{"field":"chars","type":"quantitative","scale":{"domain":[-3200,42785]},"title":null,"axis":{"values":[0,10000,20000,30000,40000]}},"y":{"field":"ttr","type":"quantitative","scale":{"domain":[-0.02,1.05]},"title":null,"axis":{"values":[0,0.2,0.4,0.6,0.8,1]}}}},
{"mark":"circle","encoding":{"x":{"field":"sents","type":"quantitative","scale":{"domain":[-21.3,257.9]},"title":null,"axis":{"values":[0,100,200]}},"y":{"field":"ttr","type":"quantitative","scale":{"domain":[-0.02,1.05]},"title":null,"axis":{"values":[0,0.2,0.4,0.6,0.8,1]}}}},
{"mark":"circle","encoding":{"x":{"field":"ease","type":"quantitative","scale":{"domain":[-455.7,154.6]},"title":null,"axis":{"values":[-400,-200,0]}},"y":{"field":"ttr","type":"quantitative","scale":{"domain":[-0.02,1.05]},"title":null,"axis":{"values":[0,0.2,0.4,0.6,0.8,1]}}}},
{"mark":"circle","encoding":{"x":{"field":"fog","type":"quantitative","scale":{"domain":[-2.9,54.1]},"title":null,"axis":{"values":[0,20,40]}},"y":{"field":"ttr","type":"quantitative","scale":{"domain":[-0.02,1.05]},"title":null,"axis":{"values":[0,0.2,0.4,0.6,0.8,1]}}}},
{"data":{"name":"k8"},"mark":{"type":"area","line":true,"interpolate":"monotone"},"encoding":{"x":{"field":"x","type":"quantitative","scale":{"domain":[-0.0638,1.095]},"title":null,"axis":{"values":[0,0.25,0.5,0.75,1]}},"y":{"field":"d","type":"quantitative","scale":{"domain":[0,1.05]},"axis":null}}},
{"data":{"values":[]},"mark":"point"},{"data":{"values":[]},"mark":"point"},{"data":{"values":[]},"mark":"point"},
{"mark":"circle","encoding":{"x":{"field":"words","type":"quantitative","scale":{"domain":[-710,11270]},"title":null,"axis":{"values":[0,2500,5000,7500,10000]}},"y":{"field":"noun","type":"quantitative","scale":{"domain":[-0.021,0.436]},"title":"noun_ratio","axis":{"labels":true,"format":".1f","values":[0,0.1,0.2,0.3,0.4]}}}},
{"mark":"circle","encoding":{"x":{"field":"len","type":"quantitative","scale":{"domain":[-5.9,135.4]},"title":null,"axis":{"values":[0,50,100]}},"y":{"field":"noun","type":"quantitative","scale":{"domain":[-0.021,0.436]},"title":null,"axis":{"values":[0,0.1,0.2,0.3,0.4]}}}},
{"mark":"circle","encoding":{"x":{"field":"uniq","type":"quantitative","scale":{"domain":[-137,1693]},"title":null,"axis":{"values":[0,500,1000,1500]}},"y":{"field":"noun","type":"quantitative","scale":{"domain":[-0.021,0.436]},"title":null,"axis":{"values":[0,0.1,0.2,0.3,0.4]}}}},
{"mark":"circle","encoding":{"x":{"field":"chars","type":"quantitative","scale":{"domain":[-3200,42785]},"title":null,"axis":{"values":[0,10000,20000,30000,40000]}},"y":{"field":"noun","type":"quantitative","scale":{"domain":[-0.021,0.436]},"title":null,"axis":{"values":[0,0.1,0.2,0.3,0.4]}}}},
{"mark":"circle","encoding":{"x":{"field":"sents","type":"quantitative","scale":{"domain":[-21.3,257.9]},"title":null,"axis":{"values":[0,100,200]}},"y":{"field":"noun","type":"quantitative","scale":{"domain":[-0.021,0.436]},"title":null,"axis":{"values":[0,0.1,0.2,0.3,0.4]}}}},
{"mark":"circle","encoding":{"x":{"field":"ease","type":"quantitative","scale":{"domain":[-455.7,154.6]},"title":null,"axis":{"values":[-400,-200,0]}},"y":{"field":"noun","type":"quantitative","scale":{"domain":[-0.021,0.436]},"title":null,"axis":{"values":[0,0.1,0.2,0.3,0.4]}}}},
{"mark":"circle","encoding":{"x":{"field":"fog","type":"quantitative","scale":{"domain":[-2.9,54.1]},"title":null,"axis":{"values":[0,20,40]}},"y":{"field":"noun","type":"quantitative","scale":{"domain":[-0.021,0.436]},"title":null,"axis":{"values":[0,0.1,0.2,0.3,0.4]}}}},
{"mark":"circle","encoding":{"x":{"field":"ttr","type":"quantitative","scale":{"domain":[-0.0638,1.095]},"title":null,"axis":{"values":[0,0.25,0.5,0.75,1]}},"y":{"field":"noun","type":"quantitative","scale":{"domain":[-0.021,0.436]},"title":null,"axis":{"values":[0,0.1,0.2,0.3,0.4]}}}},
{"data":{"name":"k9"},"mark":{"type":"area","line":true,"interpolate":"monotone"},"encoding":{"x":{"field":"x","type":"quantitative","scale":{"domain":[-0.0378,0.4547]},"title":null,"axis":{"values":[0,0.1,0.2,0.3,0.4]}},"y":{"field":"d","type":"quantitative","scale":{"domain":[0,1.05]},"axis":null}}},
{"data":{"values":[]},"mark":"point"},{"data":{"values":[]},"mark":"point"},
{"mark":"circle","encoding":{"x":{"field":"words","type":"quantitative","scale":{"domain":[-710,11270]},"title":null,"axis":{"values":[0,2500,5000,7500,10000]}},"y":{"field":"verb","type":"quantitative","scale":{"domain":[-0.0114,0.24]},"title":"verb_ratio","axis":{"labels":true,"format":".2f","values":[0,0.05,0.1,0.15,0.2]}}}},
{"mark":"circle","encoding":{"x":{"field":"len","type":"quantitative","scale":{"domain":[-5.9,135.4]},"title":null,"axis":{"values":[0,50,100]}},"y":{"field":"verb","type":"quantitative","scale":{"domain":[-0.0114,0.24]},"title":null,"axis":{"values":[0,0.05,0.1,0.15,0.2]}}}},
{"mark":"circle","encoding":{"x":{"field":"uniq","type":"quantitative","scale":{"domain":[-137,1693]},"title":null,"axis":{"values":[0,500,1000,1500]}},"y":{"field":"verb","type":"quantitative","scale":{"domain":[-0.0114,0.24]},"title":null,"axis":{"values":[0,0.05,0.1,0.15,0.2]}}}},
{"mark":"circle","encoding":{"x":{"field":"chars","type":"quantitative","scale":{"domain":[-3200,42785]},"title":null,"axis":{"values":[0,10000,20000,30000,40000]}},"y":{"field":"verb","type":"quantitative","scale":{"domain":[-0.0114,0.24]},"title":null,"axis":{"values":[0,0.05,0.1,0.15,0.2]}}}},
{"mark":"circle","encoding":{"x":{"field":"sents","type":"quantitative","scale":{"domain":[-21.3,257.9]},"title":null,"axis":{"values":[0,100,200]}},"y":{"field":"verb","type":"quantitative","scale":{"domain":[-0.0114,0.24]},"title":null,"axis":{"values":[0,0.05,0.1,0.15,0.2]}}}},
{"mark":"circle","encoding":{"x":{"field":"ease","type":"quantitative","scale":{"domain":[-455.7,154.6]},"title":null,"axis":{"values":[-400,-200,0]}},"y":{"field":"verb","type":"quantitative","scale":{"domain":[-0.0114,0.24]},"title":null,"axis":{"values":[0,0.05,0.1,0.15,0.2]}}}},
{"mark":"circle","encoding":{"x":{"field":"fog","type":"quantitative","scale":{"domain":[-2.9,54.1]},"title":null,"axis":{"values":[0,20,40]}},"y":{"field":"verb","type":"quantitative","scale":{"domain":[-0.0114,0.24]},"title":null,"axis":{"values":[0,0.05,0.1,0.15,0.2]}}}},
{"mark":"circle","encoding":{"x":{"field":"ttr","type":"quantitative","scale":{"domain":[-0.0638,1.095]},"title":null,"axis":{"values":[0,0.25,0.5,0.75,1]}},"y":{"field":"verb","type":"quantitative","scale":{"domain":[-0.0114,0.24]},"title":null,"axis":{"values":[0,0.05,0.1,0.15,0.2]}}}},
{"mark":"circle","encoding":{"x":{"field":"noun","type":"quantitative","scale":{"domain":[-0.0378,0.4547]},"title":null,"axis":{"values":[0,0.1,0.2,0.3,0.4]}},"y":{"field":"verb","type":"quantitative","scale":{"domain":[-0.0114,0.24]},"title":null,"axis":{"values":[0,0.05,0.1,0.15,0.2]}}}},
{"data":{"name":"k10"},"mark":{"type":"area","line":true,"interpolate":"monotone"},"encoding":{"x":{"field":"x","type":"quantitative","scale":{"domain":[-0.0213,0.25]},"title":null,"axis":{"values":[0,0.1,0.2]}},"y":{"field":"d","type":"quantitative","scale":{"domain":[0,1.05]},"axis":null}}},
{"data":{"values":[]},"mark":"point"},
{"mark":"circle","encoding":{"x":{"field":"words","type":"quantitative","scale":{"domain":[-710,11270]},"title":"num_words","axis":{"labels":true,"format":"d","values":[0,2500,5000,7500,10000]}},"y":{"field":"adj","type":"quantitative","scale":{"domain":[-0.0167,0.352]},"title":"adj_ratio","axis":{"labels":true,"format":".2f","values":[0,0.05,0.1,0.15,0.2,0.25,0.3,0.35]}}}},
{"mark":"circle","encoding":{"x":{"field":"len","type":"quantitative","scale":{"domain":[-5.9,135.4]},"title":"avg_word_length","axis":{"labels":true,"format":"d","values":[0,50,100]}},"y":{"field":"adj","type":"quantitative","scale":{"domain":[-0.0167,0.352]},"title":null,"axis":{"values":[0,0.05,0.1,0.15,0.2,0.25,0.3,0.35]}}}},
{"mark":"circle","encoding":{"x":{"field":"uniq","type":"quantitative","scale":{"domain":[-137,1693]},"title":"unique_words","axis":{"labels":true,"format":"d","values":[0,500,1000,1500]}},"y":{"field":"adj","type":"quantitative","scale":{"domain":[-0.0167,0.352]},"title":null,"axis":{"values":[0,0.05,0.1,0.15,0.2,0.25,0.3,0.35]}}}},
{"mark":"circle","encoding":{"x":{"field":"chars","type":"quantitative","scale":{"domain":[-3200,42785]},"title":"char_count","axis":{"labels":true,"format":"d","values":[0,10000,20000,30000,40000]}},"y":{"field":"adj","type":"quantitative","scale":{"domain":[-0.0167,0.352]},"title":null,"axis":{"values":[0,0.05,0.1,0.15,0.2,0.25,0.3,0.35]}}}},
{"mark":"circle","encoding":{"x":{"field":"sents","type":"quantitative","scale":{"domain":[-21.3,257.9]},"title":"sentence_count","axis":{"labels":true,"format":"d","values":[0,100,200]}},"y":{"field":"adj","type":"quantitative","scale":{"domain":[-0.0167,0.352]},"title":null,"axis":{"values":[0,0.05,0.1,0.15,0.2,0.25,0.3,0.35]}}}},
{"mark":"circle","encoding":{"x":{"field":"ease","type":"quantitative","scale":{"domain":[-455.7,154.6]},"title":"reading_ease","axis":{"labels":true,"format":"d","values":[-400,-200,0]}},"y":{"field":"adj","type":"quantitative","scale":{"domain":[-0.0167,0.352]},"title":null,"axis":{"values":[0,0.05,0.1,0.15,0.2,0.25,0.3,0.35]}}}},
{"mark":"circle","encoding":{"x":{"field":"fog","type":"quantitative","scale":{"domain":[-2.9,54.1]},"title":"fog_index","axis":{"labels":true,"format":"d","values":[0,20,40]}},"y":{"field":"adj","type":"quantitative","scale":{"domain":[-0.0167,0.352]},"title":null,"axis":{"values":[0,0.05,0.1,0.15,0.2,0.25,0.3,0.35]}}}},
{"mark":"circle","encoding":{"x":{"field":"ttr","type":"quantitative","scale":{"domain":[-0.0638,1.095]},"title":"ttr","axis":{"labels":true,"format":".2f","values":[0,0.25,0.5,0.75,1]}},"y":{"field":"adj","type":"quantitative","scale":{"domain":[-0.0167,0.352]},"title":null,"axis":{"values":[0,0.05,0.1,0.15,0.2,0.25,0.3,0.35]}}}},
{"mark":"circle","encoding":{"x":{"field":"noun","type":"quantitative","scale":{"domain":[-0.0378,0.4547]},"title":"noun_ratio","axis":{"labels":true,"format":".1f","values":[0,0.1,0.2,0.3,0.4]}},"y":{"field":"adj","type":"quantitative","scale":{"domain":[-0.0167,0.352]},"title":null,"axis":{"values":[0,0.05,0.1,0.15,0.2,0.25,0.3,0.35]}}}},
{"mark":"circle","encoding":{"x":{"field":"verb","type":"quantitative","scale":{"domain":[-0.0213,0.25]},"title":"verb_ratio","axis":{"labels":true,"format":".1f","values":[0,0.1,0.2]}},"y":{"field":"adj","type":"quantitative","scale":{"domain":[-0.0167,0.352]},"title":null,"axis":{"values":[0,0.05,0.1,0.15,0.2,0.25,0.3,0.35]}}}},
{"data":{"name":"k11"},"mark":{"type":"area","line":true,"interpolate":"monotone"},"encoding":{"x":{"field":"x","type":"quantitative","scale":{"domain":[-0.0308,0.3663]},"title":"adj_ratio","axis":{"labels":true,"format":".1f","values":[0,0.1,0.2,0.3]}},"y":{"field":"d","type":"quantitative","scale":{"domain":[0,1.05]},"axis":null}}}
]}
